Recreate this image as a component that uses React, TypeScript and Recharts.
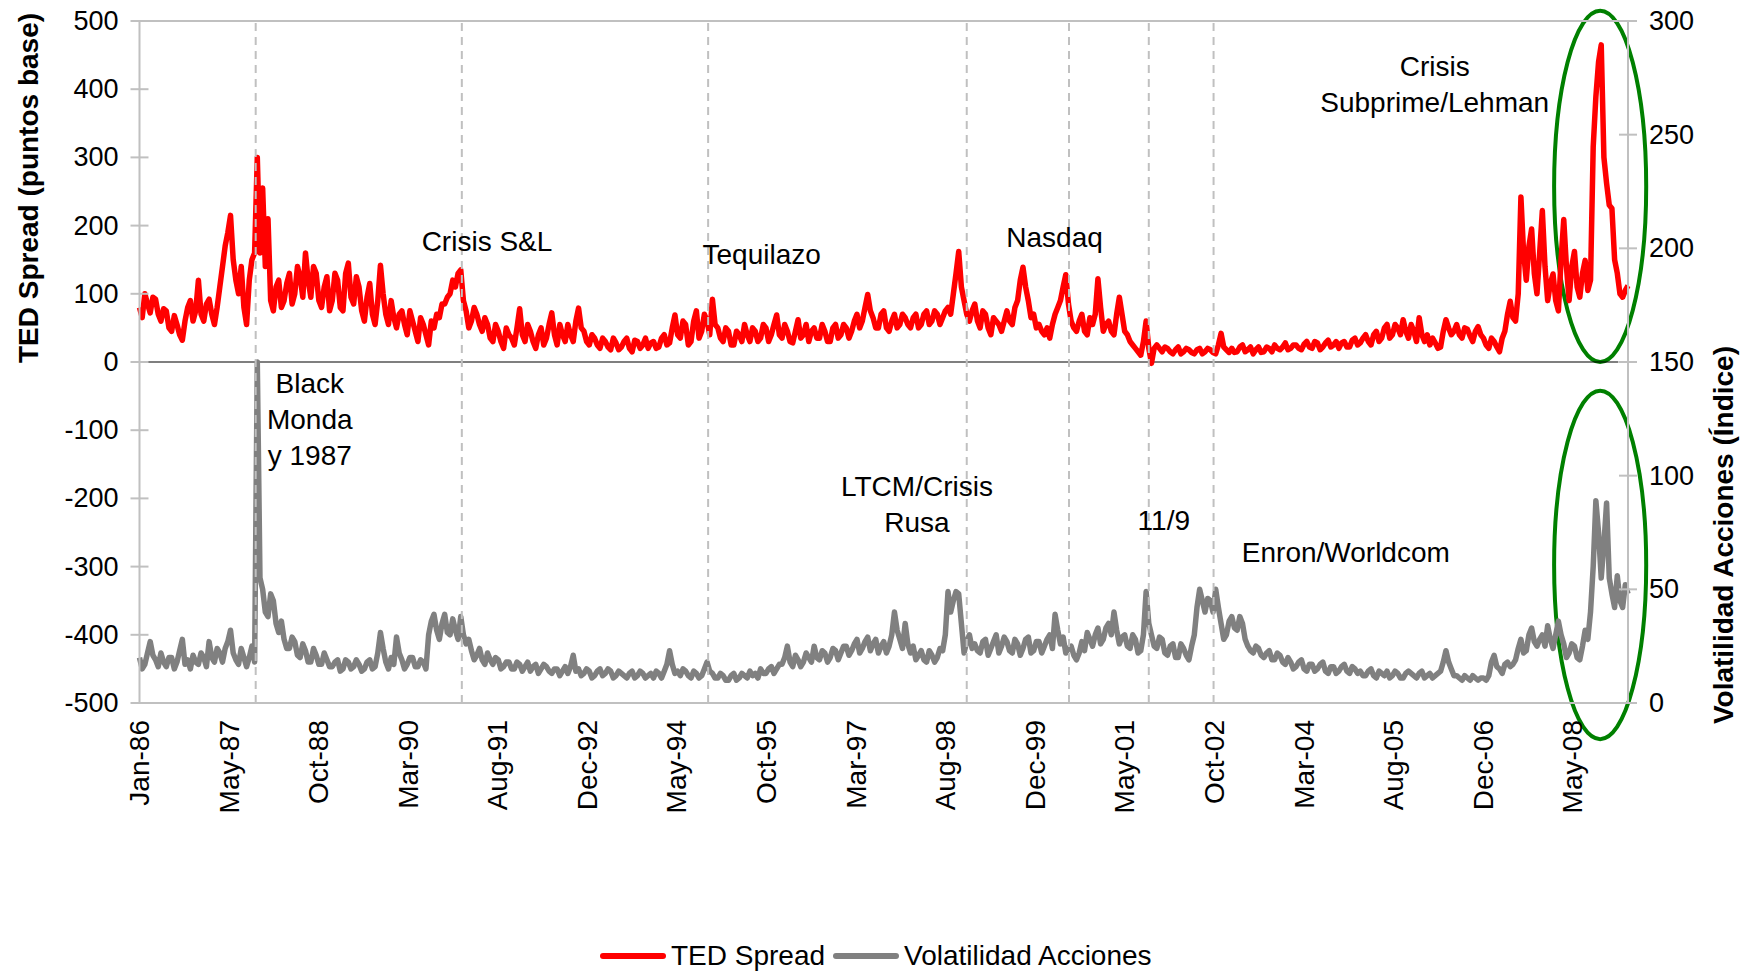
import {
  Legend,
  Line,
  LineChart,
  ReferenceArea,
  ReferenceDot,
  ReferenceLine,
  XAxis,
  YAxis,
} from "recharts";

const FONT = "'Liberation Sans', Arial, sans-serif";

// x axis: months since Jan-86, one tick label every ~16.7 months
const tickLabels = [
  "Jan-86", "May-87", "Oct-88", "Mar-90", "Aug-91", "Dec-92", "May-94", "Oct-95",
  "Mar-97", "Aug-98", "Dec-99", "May-01", "Oct-02", "Mar-04", "Aug-05", "Dec-06", "May-08",
];
const tickStep = 16.73;
const lastMonth = 278;

const leftTicks = [-500, -400, -300, -200, -100, 0, 100, 200, 300, 400, 500];
const rightTicks = [0, 50, 100, 150, 200, 250, 300];

// TED spread, basis points (left axis), value at the start of each month
const tedSpread = [
  80, 100, 72, 92, 60, 75, 45, 55, 32, 80, 60, 120,
  60, 92, 55, 110, 170, 215, 120, 140, 55, 150, 300, 255,
  210, 75, 120, 90, 130, 100, 125, 160, 95, 130, 80, 125,
  90, 120, 75, 145, 85, 110, 60, 115, 55, 142, 70, 90,
  50, 75, 40, 60, 30, 55, 25, 50, 65, 85, 100, 110,
  135, 75, 60, 70, 45, 55, 30, 45, 20, 40, 25, 78,
  30, 45, 20, 50, 35, 72, 25, 40, 55, 30, 79, 45,
  25, 35, 20, 30, 18, 28, 22, 35, 15, 30, 25, 20,
  30, 22, 40, 28, 69, 35, 55, 30, 75, 45, 60, 92,
  50, 30, 45, 25, 40, 55, 30, 45, 35, 50, 40, 69,
  35, 45, 28, 62, 40, 30, 50, 35, 45, 30, 55, 40,
  50, 45, 70, 60, 99, 65, 50, 75, 45, 70, 55, 65,
  50, 70, 55, 75, 60, 70, 65, 80, 100, 162, 90, 60,
  85, 50, 70, 40, 60, 45, 75, 55, 90, 139, 90, 70,
  55, 40, 35, 70, 90, 128, 60, 45, 70, 40, 55, 122,
  45, 60, 40, 95, 45, 30, 20, 10, 60, -2, 25, 15,
  20, 12, 22, 15, 18, 12, 20, 15, 18, 12, 42, 18,
  20, 15, 25, 18, 12, 22, 15, 20, 25, 18, 28, 20,
  25, 18, 30, 20, 28, 22, 32, 25, 20, 30, 22, 35,
  28, 40, 25, 45, 35, 55, 40, 50, 62, 35, 45, 65,
  30, 25, 28, 22, 62, 40, 55, 35, 48, 30, 52, 35,
  20, 30, 15, 45, 89, 60, 242, 120, 195, 100, 222, 90,
  129, 75, 209, 90, 162, 95, 149, 120, 389, 465, 262, 225,
  130, 95, 112,
];

// TED spread, mid-month readings
const tedSpreadMid = [
  65, 85, 95, 70, 78, 50, 68, 40, 60, 90, 75, 70,
  85, 70, 80, 140, 190, 150, 100, 80, 120, 160, 160, 140,
  90, 110, 80, 115, 85, 140, 95, 120, 140, 90, 110, 75,
  130, 80, 130, 95, 125, 75, 95, 70, 90, 100, 55, 65,
  70, 55, 75, 45, 65, 40, 60, 70, 85, 95, 120, 130,
  90, 50, 80, 55, 65, 35, 55, 30, 50, 35, 50, 40,
  55, 30, 40, 25, 55, 40, 55, 30, 40, 60, 50, 30,
  40, 25, 35, 22, 35, 18, 30, 20, 32, 20, 35, 28,
  20, 35, 25, 50, 40, 60, 25, 60, 35, 70, 40, 55,
  35, 50, 25, 45, 30, 40, 50, 30, 55, 30, 55, 40,
  55, 30, 45, 35, 55, 45, 35, 55, 30, 50, 35, 55,
  35, 60, 50, 80, 75, 50, 70, 50, 60, 50, 70, 55,
  65, 50, 70, 55, 75, 55, 75, 70, 130, 110, 70, 75,
  60, 75, 50, 65, 55, 60, 60, 80, 120, 110, 65, 50,
  45, 50, 55, 80, 110, 85, 50, 60, 45, 65, 70, 80,
  55, 45, 70, 70, 40, 25, 15, 30, 20, 20, 20, 22,
  15, 18, 12, 20, 14, 18, 12, 20, 14, 25, 22, 14,
  14, 22, 15, 22, 18, 14, 22, 15, 20, 22, 18, 25,
  20, 26, 22, 30, 18, 28, 22, 30, 28, 22, 32, 25,
  35, 30, 40, 30, 50, 35, 55, 40, 45, 55, 30, 40,
  40, 35, 20, 45, 50, 45, 40, 50, 38, 45, 40, 25,
  35, 22, 35, 70, 65, 100, 160, 170, 130, 160, 140, 115,
  90, 150, 140, 140, 110, 130, 105, 315, 440, 300, 230, 150,
  100, 105,
];

// equity volatility index (right axis), value at the start of each month
const volatility = [
  20, 17, 27, 19, 22, 16, 20, 18, 28, 19, 21, 17,
  20, 27, 18, 22, 24, 32, 19, 24, 16, 25, 150, 50,
  38, 45, 31, 28, 24, 27, 20, 23, 18, 21, 17, 19,
  16, 19, 15, 18, 16, 17, 15, 19, 16, 31, 18, 20,
  29, 19, 17, 20, 16, 18, 30, 39, 28, 39, 30, 32,
  38, 26, 23, 21, 19, 22, 17, 19, 16, 18, 15, 17,
  16, 14, 17, 15, 16, 13, 15, 14, 13, 21, 15, 13,
  14, 12, 15, 13, 14, 12, 13, 11, 14, 12, 13, 12,
  11, 13, 14, 23, 13, 12, 14, 11, 13, 12, 18, 13,
  11, 12, 10, 13, 11, 12, 14, 13, 15, 13, 16, 15,
  17, 25, 16, 19, 18, 20, 25, 19, 22, 20, 23, 22,
  25, 23, 28, 24, 29, 26, 22, 27, 25, 40, 28, 35,
  22, 19, 23, 18, 21, 20, 23, 49, 45, 48, 22, 30,
  26, 22, 28, 24, 30, 25, 27, 22, 26, 24, 29, 23,
  27, 25, 30, 39, 26, 22, 25, 19, 27, 31, 25, 33,
  28, 35, 40, 26, 30, 24, 28, 23, 49, 30, 24, 28,
  21, 26, 20, 24, 19, 30, 50, 40, 45, 50, 35, 30,
  38, 32, 35, 25, 22, 24, 20, 23, 19, 21, 17, 18,
  16, 19, 14, 17, 15, 18, 13, 16, 14, 17, 13, 15,
  14, 12, 15, 11, 13, 14, 12, 13, 11, 14, 12, 13,
  11, 13, 12, 14, 23, 15, 12, 10, 11, 12, 10, 11,
  12, 21, 15, 17, 16, 19, 28, 23, 33, 25, 30, 34,
  24, 36, 26, 22, 25, 19, 32, 40, 89, 55, 88, 48,
  56, 42, 48,
];

// equity volatility, mid-month readings
const volatilityMid = [
  15, 22, 21, 16, 18, 20, 15, 23, 17, 15, 18, 22,
  16, 20, 24, 18, 27, 22, 17, 20, 20, 18, 55, 40,
  48, 35, 36, 24, 29, 21, 26, 18, 24, 17, 22, 16,
  18, 14, 19, 15, 19, 14, 18, 15, 22, 24, 15, 17,
  22, 15, 20, 16, 19, 15, 36, 32, 35, 31, 37, 28,
  30, 28, 19, 24, 17, 19, 20, 15, 18, 15, 18, 14,
  18, 16, 13, 17, 14, 15, 12, 16, 16, 14, 12, 15,
  11, 14, 12, 15, 11, 14, 12, 13, 11, 14, 11, 13,
  14, 11, 17, 17, 14, 15, 12, 14, 11, 15, 14, 11,
  13, 10, 12, 10, 13, 11, 12, 11, 13, 15, 13, 17,
  20, 18, 21, 16, 22, 18, 20, 23, 18, 24, 19, 25,
  21, 26, 22, 27, 23, 28, 25, 22, 30, 32, 24, 26,
  25, 21, 19, 23, 18, 24, 30, 40, 49, 35, 27, 24,
  23, 27, 21, 27, 22, 29, 23, 28, 21, 28, 22, 27,
  22, 28, 24, 32, 29, 24, 21, 22, 23, 28, 30, 26,
  33, 30, 32, 29, 25, 30, 22, 30, 35, 25, 29, 22,
  25, 20, 26, 21, 25, 42, 45, 46, 40, 42, 28, 36,
  33, 38, 28, 23, 25, 21, 22, 19, 22, 18, 20, 15,
  18, 15, 17, 14, 17, 14, 16, 13, 16, 14, 16, 13,
  12, 14, 12, 14, 12, 11, 14, 11, 13, 13, 11, 14,
  12, 11, 13, 18, 18, 12, 11, 12, 10, 11, 11, 10,
  18, 16, 13, 18, 17, 24, 22, 30, 27, 28, 25, 28,
  30, 30, 20, 26, 20, 25, 28, 60, 75, 70, 55, 42,
  45, 52,
];

// dashed markers for each episode (month index)
const eventMonths = [21.7, 60.2, 106.2, 154.5, 173.6, 188.5, 200.6];

// text labels: month, left-axis value of the first line, lines
const annotations = [
  { m: 31.8, v: -31, lines: ["Black", "Monda", "y 1987"] },
  { m: 64.9, v: 177, lines: ["Crisis S&L"] },
  { m: 116.2, v: 157, lines: ["Tequilazo"] },
  { m: 170.9, v: 183, lines: ["Nasdaq"] },
  { m: 241.9, v: 434, lines: ["Crisis", "Subprime/Lehman"] },
  { m: 145.2, v: -183, lines: ["LTCM/Crisis", "Rusa"] },
  { m: 191.3, v: -233, lines: ["11/9"] },
  { m: 225.3, v: -280, lines: ["Enron/Worldcom"] },
];

const data = tedSpread.flatMap((ted, i) => {
  const rows = [{ m: i, ted, vol: volatility[i] }];
  if (i < tedSpreadMid.length) {
    rows.push({ m: i + 0.5, ted: tedSpreadMid[i], vol: volatilityMid[i] });
  }
  return rows;
});
const xTicks = tickLabels.map((_, i) => i * tickStep);

const AXIS_GRAY = "#c0c0c0";

function LeftTick(props: any) {
  const { x, y, payload } = props;
  return (
    <g>
      <line x1={x - 9} x2={x + 9} y1={y} y2={y} stroke={AXIS_GRAY} strokeWidth={2} />
      <text x={x - 21} y={y} textAnchor="end" dominantBaseline="central" fontSize={27} fill="#000" fontFamily={FONT}>
        {payload.value}
      </text>
    </g>
  );
}

function RightTick(props: any) {
  const { x, y, payload } = props;
  return (
    <g>
      <line x1={x - 9} x2={x + 9} y1={y} y2={y} stroke={AXIS_GRAY} strokeWidth={2} />
      <text x={x + 21} y={y} textAnchor="start" dominantBaseline="central" fontSize={27} fill="#000" fontFamily={FONT}>
        {payload.value}
      </text>
    </g>
  );
}

function MonthTick(props: any) {
  const { x, y, index } = props;
  const ty = y + 17;
  return (
    <text
      x={x}
      y={ty}
      transform={`rotate(-90 ${x} ${ty})`}
      textAnchor="end"
      dominantBaseline="central"
      fontSize={28}
      fill="#000"
      fontFamily={FONT}
    >
      {tickLabels[index]}
    </text>
  );
}

const Oval = (p: any) => {
  const w = Math.abs(p.width);
  const h = Math.abs(p.height);
  const x = Math.min(p.x, p.x + p.width);
  const y = Math.min(p.y, p.y + p.height);
  return (
    <ellipse cx={x + w / 2} cy={y + h / 2} rx={w / 2} ry={h / 2} fill="none" stroke="#008000" strokeWidth={4} />
  );
};

const makeNote = (lines: string[]) => (p: any) => (
  <g>
    {lines.map((line, i) => (
      <text
        key={line}
        x={p.cx}
        y={p.cy + i * 36}
        textAnchor="middle"
        dominantBaseline="central"
        fontSize={28}
        fill="#000"
        fontFamily={FONT}
      >
        {line}
      </text>
    ))}
  </g>
);

const leftTitle = () => (
  <text
    x={28}
    y={188}
    transform="rotate(-90 28 188)"
    textAnchor="middle"
    dominantBaseline="central"
    fontSize={28}
    fontWeight="bold"
    fill="#000"
    fontFamily={FONT}
  >
    TED Spread (puntos base)
  </text>
);

const rightTitle = () => (
  <text
    x={1723}
    y={535}
    transform="rotate(-90 1723 535)"
    textAnchor="middle"
    dominantBaseline="central"
    fontSize={28}
    fontWeight="bold"
    fill="#000"
    fontFamily={FONT}
  >
    Volatilidad Acciones (Índice)
  </text>
);

function LegendContent(props: any) {
  const items = props.payload ?? [];
  return (
    <div style={{ display: "flex", alignItems: "center", height: 30, fontFamily: FONT, fontSize: 28, lineHeight: "30px", color: "#000", whiteSpace: "nowrap" }}>
      {items.map((item: any, i: number) => (
        <div key={item.value} style={{ display: "flex", alignItems: "center", marginLeft: i === 0 ? 0 : 8 }}>
          <svg width={66} height={10}>
            <line x1={3} x2={63} y1={5} y2={5} stroke={item.color} strokeWidth={6} strokeLinecap="round" />
          </svg>
          <span style={{ marginLeft: 5 }}>{item.value}</span>
        </div>
      ))}
    </div>
  );
}

export default function App() {
  return (
    <div style={{ position: "absolute", left: 0, top: 0 }}>
      <LineChart
        width={1749}
        height={972}
        data={data}
        margin={{ top: 21, right: 0, bottom: 0, left: 0 }}
        style={{ fontFamily: FONT }}
      >
        <XAxis
          dataKey="m"
          type="number"
          domain={[0, lastMonth]}
          ticks={xTicks}
          interval={0}
          height={269}
          tick={<MonthTick />}
          tickLine={false}
          tickSize={0}
          tickMargin={0}
          axisLine={{ stroke: AXIS_GRAY, strokeWidth: 2 }}
        />
        <YAxis
          yAxisId="left"
          orientation="left"
          width={139.5}
          domain={[-500, 500]}
          ticks={leftTicks}
          interval={0}
          tick={<LeftTick />}
          tickLine={false}
          tickSize={0}
          tickMargin={0}
          axisLine={{ stroke: AXIS_GRAY, strokeWidth: 2 }}
          label={leftTitle}
        />
        <YAxis
          yAxisId="right"
          orientation="right"
          width={121}
          domain={[0, 300]}
          ticks={rightTicks}
          interval={0}
          tick={<RightTick />}
          tickLine={false}
          tickSize={0}
          tickMargin={0}
          axisLine={{ stroke: AXIS_GRAY, strokeWidth: 2 }}
          label={rightTitle}
        />
        <ReferenceLine yAxisId="left" y={500} stroke={AXIS_GRAY} strokeWidth={2} />
        <ReferenceLine
          yAxisId="left"
          segment={[{ x: 0, y: 0 }, { x: 276.2, y: 0 }]}
          stroke="#000"
          strokeWidth={1.2}
        />
        <Line
          yAxisId="left"
          type="linear"
          dataKey="ted"
          name="TED Spread"
          stroke="#ff0000"
          strokeWidth={5.5}
          strokeLinejoin="round"
          dot={false}
          isAnimationActive={false}
        />
        <Line
          yAxisId="right"
          type="linear"
          dataKey="vol"
          name="Volatilidad Acciones"
          stroke="#808080"
          strokeWidth={5.5}
          strokeLinejoin="round"
          dot={false}
          isAnimationActive={false}
        />
        {eventMonths.map((m) => (
          <ReferenceLine key={m} yAxisId="left" x={m} stroke={AXIS_GRAY} strokeDasharray="8 6" strokeWidth={2} />
        ))}
        <ReferenceArea yAxisId="left" x1={264.2} x2={281.4} y1={0} y2={515} ifOverflow="visible" shape={Oval} />
        <ReferenceArea yAxisId="left" x1={264.2} x2={281.4} y1={-553} y2={-42} ifOverflow="visible" shape={Oval} />
        {annotations.map((a) => (
          <ReferenceDot
            key={a.lines[0] + a.m}
            yAxisId="left"
            x={a.m}
            y={a.v}
            r={0}
            ifOverflow="visible"
            shape={makeNote(a.lines)}
          />
        ))}
        <Legend
          layout="horizontal"
          verticalAlign="middle"
          align="center"
          wrapperStyle={{ left: 600, top: 941, width: "auto" }}
          content={<LegendContent />}
        />
      </LineChart>
    </div>
  );
}
